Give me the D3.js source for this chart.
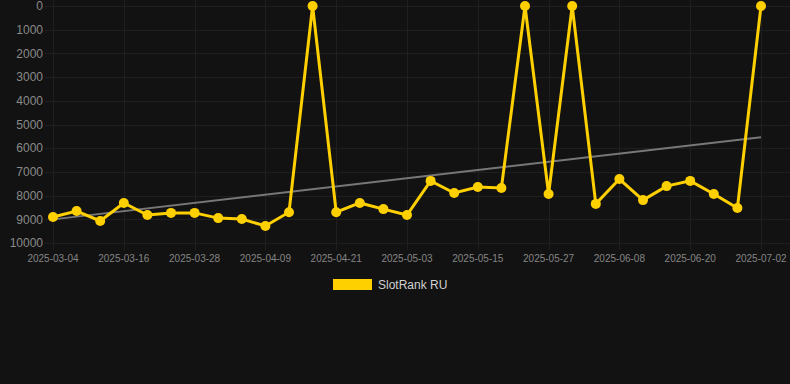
<!DOCTYPE html>
<html>
<head>
<meta charset="utf-8">
<script src="https://cdn.jsdelivr.net/npm/d3@7"></script>
<style>
  html, body { margin: 0; padding: 0; background: #121212; }
  svg { display: block; }
</style>
</head>
<body>
<svg id="chart" width="790" height="384"></svg>
<script>
const dates = ["2025-03-04","2025-03-08","2025-03-12","2025-03-16","2025-03-20","2025-03-24","2025-03-28","2025-04-01","2025-04-05","2025-04-09","2025-04-13","2025-04-17","2025-04-21","2025-04-25","2025-04-29","2025-05-03","2025-05-07","2025-05-11","2025-05-15","2025-05-19","2025-05-23","2025-05-27","2025-05-31","2025-06-04","2025-06-08","2025-06-12","2025-06-16","2025-06-20","2025-06-24","2025-06-28","2025-07-02"];
const ranks = [8900,8650,9070,8310,8820,8730,8730,8950,8990,9280,8700,0,8700,8310,8570,8820,7380,7890,7640,7680,0,7930,0,8350,7300,8190,7600,7380,7930,8520,0];
const xTickLabels = ["2025-03-04","2025-03-16","2025-03-28","2025-04-09","2025-04-21","2025-05-03","2025-05-15","2025-05-27","2025-06-08","2025-06-20","2025-07-02"];
const yTicks = [0,1000,2000,3000,4000,5000,6000,7000,8000,9000,10000];
const seriesName = "SlotRank RU";

const parse = d3.utcParse("%Y-%m-%d");
const data = dates.map((d, i) => ({ date: parse(d), value: ranks[i], i }));

const svg = d3.select("#chart");
const x = d3.scaleUtc().domain([parse(dates[0]), parse(dates[dates.length - 1])]).range([53, 761]);
const y = d3.scaleLinear().domain([0, 10000]).range([6, 243]);

const gridColor = "#1f1f1f";

// horizontal grid
svg.append("g").selectAll("line").data(yTicks).join("line")
  .attr("x1", 45).attr("x2", 790)
  .attr("y1", d => Math.round(y(d)) + 0.5).attr("y2", d => Math.round(y(d)) + 0.5)
  .attr("stroke", gridColor).attr("stroke-width", 1);

// vertical grid
svg.append("g").selectAll("line").data(xTickLabels).join("line")
  .attr("x1", d => Math.round(x(parse(d))) + 0.5).attr("x2", d => Math.round(x(parse(d))) + 0.5)
  .attr("y1", 0).attr("y2", 250)
  .attr("stroke", gridColor).attr("stroke-width", 1);

// y axis labels
svg.append("g").selectAll("text").data(yTicks).join("text")
  .attr("x", 43).attr("y", d => y(d))
  .attr("dy", "0.35em")
  .attr("text-anchor", "end")
  .attr("font-family", "Liberation Sans, Arial, sans-serif")
  .attr("font-size", 12)
  .attr("fill", "#8a8a8a")
  .text(d => d);

// x axis labels
svg.append("g").selectAll("text").data(xTickLabels).join("text")
  .attr("x", d => x(parse(d))).attr("y", 262)
  .attr("text-anchor", "middle")
  .attr("font-family", "Liberation Sans, Arial, sans-serif")
  .attr("font-size", 10)
  .attr("fill", "#858585")
  .text(d => d);

// trend line (least squares on index)
const n = data.length;
const mx = d3.mean(data, d => d.i), my = d3.mean(data, d => d.value);
const slope = d3.sum(data, d => (d.i - mx) * (d.value - my)) / d3.sum(data, d => (d.i - mx) ** 2);
const icpt = my - slope * mx;
const trend = [data[0], data[n - 1]].map(d => ({ date: d.date, value: icpt + slope * d.i }));
svg.append("path")
  .datum(trend)
  .attr("d", d3.line().x(d => x(d.date)).y(d => y(d.value)))
  .attr("fill", "none")
  .attr("stroke", "#777777")
  .attr("stroke-width", 2);

// data line
const yellow = "#FFD000";
svg.append("path")
  .datum(data)
  .attr("d", d3.line().x(d => x(d.date)).y(d => y(d.value)))
  .attr("fill", "none")
  .attr("stroke", yellow)
  .attr("stroke-width", 3)
  .attr("stroke-linejoin", "miter");

svg.append("g").selectAll("circle").data(data).join("circle")
  .attr("cx", d => x(d.date)).attr("cy", d => y(d.value))
  .attr("r", 5)
  .attr("fill", yellow);

// legend
const lg = svg.append("g");
lg.append("rect").attr("x", 333).attr("y", 279).attr("width", 39).attr("height", 11).attr("fill", yellow);
lg.append("text").attr("x", 378).attr("y", 289)
  .attr("font-family", "Liberation Sans, Arial, sans-serif")
  .attr("font-size", 12)
  .attr("fill", "#d0d0d0")
  .text(seriesName);
</script>
</body>
</html>
